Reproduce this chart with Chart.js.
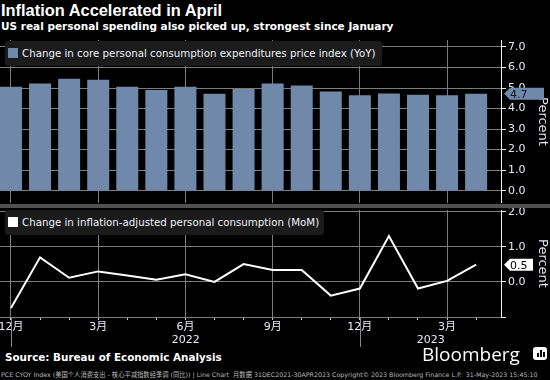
<!DOCTYPE html>
<html>
<head>
<meta charset="utf-8">
<script src="https://cdn.jsdelivr.net/npm/chart.js@4.4.0/dist/chart.umd.min.js"></script>
<style>
  html, body { margin: 0; padding: 0; background: #000; }
  body { width: 550px; height: 380px; position: relative; overflow: hidden; color: #fff; font-family: "DejaVu Sans", sans-serif; }
  .title { position: absolute; left: 1px; top: 0px; font: bold 16.4px "Liberation Sans"; line-height: 20px; }
  .subtitle { position: absolute; left: 1px; top: 19px; font: bold 10.5px "DejaVu Sans"; line-height: 14px; }
  .wrap { position: absolute; left: 0; width: 550px; }
  #topWrap { top: 40px; height: 163px; }
  #botWrap { top: 208px; height: 142px; }
  .legend { position: absolute; left: 5px; height: 25px; background: #1b1b1b; border-radius: 3px; font: 10.25px "DejaVu Sans"; line-height: 25px; color: #eef2f8; white-space: nowrap; }
  .legend .sw { display: inline-block; width: 10px; height: 10px; margin: 0 4px 0 3px; vertical-align: -1px; }
  .sep { position: absolute; left: 0; top: 204px; width: 550px; height: 4px; background: #505050; }
  .source { position: absolute; left: 5px; top: 350px; font: bold 10.4px "DejaVu Sans"; line-height: 14px; }
  .logo { position: absolute; left: 422px; top: 343px; font: 19px "Open Sans", sans-serif; line-height: 22px; color: #fff; }
  .icon { position: absolute; left: 533px; top: 347px; width: 14px; height: 13px; background: #fff; border-radius: 3px; }
  .icon i { position: absolute; bottom: 3px; width: 2px; background: #000; }
  .foot { position: absolute; left: 1px; top: 371px; font: 6.3px "DejaVu Sans", "Noto Sans CJK SC"; color: #bbb; white-space: nowrap; line-height: 8px; }
</style>
</head>
<body>
<div class="title">Inflation Accelerated in April</div>
<div class="subtitle">US real personal spending also picked up, strongest since January</div>
<div class="wrap" id="topWrap"><canvas id="topChart"></canvas></div>
<div class="legend" id="topLegend" style="top:41px;width:377px"><span class="sw" style="background:#7088aa"></span><span class="lt"></span></div>
<div class="sep"></div>
<div class="wrap" id="botWrap"><canvas id="botChart"></canvas></div>
<div class="legend" id="botLegend" style="top:210px;width:319px"><span class="sw" style="background:#fff"></span><span class="lt"></span></div>
<div class="source">Source: Bureau of Economic Analysis</div>
<div class="logo">Bloomberg</div>
<div class="icon"><i style="left:4px;height:4px"></i><i style="left:7px;height:7px"></i><i style="left:10px;height:5px"></i></div>
<div class="foot">PCE CYOY Index (美国个人消费支出 - 核心平减指数经季调 (同比)) | Line Chart &nbsp;月数据 31DEC2021-30APR2023 Copyright© 2023 Bloomberg Finance L.P. &nbsp;31-May-2023 15:45:10</div>

<script>
const months = ['2021-12', '2022-01', '2022-02', '2022-03', '2022-04', '2022-05', '2022-06', '2022-07', '2022-08',
  '2022-09', '2022-10', '2022-11', '2022-12', '2023-01', '2023-02', '2023-03', '2023-04'];
const corePceYoY = [5.06, 5.22, 5.45, 5.40, 5.06, 4.91, 5.06, 4.72, 4.95, 5.22, 5.12, 4.83, 4.65, 4.73, 4.67, 4.65, 4.72];
const realSpendingMoM = [-0.74, 0.70, 0.12, 0.30, 0.18, 0.06, 0.22, 0.00, 0.51, 0.34, 0.34, -0.39, -0.19, 1.31, -0.19, 0.03, 0.49];
const topTicks = [0, 1, 2, 3, 4, 5, 6, 7];
const botTicks = [-1, 0, 1, 2];
const topLabel = 'Change in core personal consumption expenditures price index (YoY)';
const botLabel = 'Change in inflation-adjusted personal consumption (MoM)';

document.querySelector('#topLegend .lt').textContent = topLabel;
document.querySelector('#botLegend .lt').textContent = botLabel;

const GRID = '#7c7c7c';
const TXT = '#e6ecf5';
const monthNum = m => +String(m).slice(5);
const isQuarter = i => months[i] !== undefined && monthNum(months[i]) % 3 === 0;

// shared x scale: indexes of months, right edge ends where the y axis sits
function xScale(showLabels) {
  return {
    type: 'linear',
    min: -0.378,
    max: 16.855,
    offset: false,
    afterBuildTicks: s => { s.ticks = months.map((m, i) => ({ value: i })); },
    afterFit: s => { s.height = showLabels ? 33 : 0; s.paddingLeft = 0; s.paddingRight = 0; },
    border: { display: false },
    grid: {
      offset: false,
      color: c => isQuarter(c.index) ? GRID : 'rgba(0,0,0,0)',
      borderDash: [2, 3],
      lineWidth: 1,
      drawTicks: showLabels,
      tickLength: 3,
      tickColor: '#d0d0d0',
      tickBorderDash: []
    },
    ticks: {
      display: showLabels,
      autoSkip: false,
      maxRotation: 0,
      padding: 1,
      color: TXT,
      font: { family: '"DejaVu Sans", "Noto Sans CJK SC"', size: 11 },
      callback: (v, i) => isQuarter(i) ? monthNum(months[i]) + '月' : ''
    }
  };
}

function yScale(min, max, ticks) {
  return {
    position: 'right',
    min: min,
    max: max,
    afterBuildTicks: s => { s.ticks = ticks.map(v => ({ value: v })); },
    afterFit: s => { s.width = 49; s.paddingTop = 0; s.paddingBottom = 0; },
    border: { display: true, color: '#f0f0f0', width: 1 },
    grid: { color: GRID, borderDash: [2, 3], tickLength: 5, tickColor: '#f0f0f0', tickBorderDash: [] },
    ticks: {
      color: TXT,
      padding: 2,
      font: { family: '"DejaVu Sans"', size: 11 },
      callback: v => v < 0 ? '' : v.toFixed(1)
    },
    title: { display: true, text: 'Percent', color: '#dfe6f0', font: { family: '"DejaVu Sans"', size: 13 }, padding: 0 }
  };
}

// last-value flag sitting on the right axis
function valueTag(fill, textColor, w) {
  return {
    id: 'valueTag',
    afterDraw(chart) {
      const data = chart.data.datasets[0].data;
      const last = data[data.length - 1];
      const y = chart.scales.y.getPixelForValue(last.y);
      const x = chart.chartArea.right + 3;
      const ctx = chart.ctx;
      ctx.save();
      ctx.fillStyle = fill;
      ctx.beginPath();
      ctx.moveTo(x, y);
      ctx.lineTo(x + 6, y - 6);
      ctx.lineTo(x + w, y - 6);
      ctx.lineTo(x + w, y + 6);
      ctx.lineTo(x + 6, y + 6);
      ctx.closePath();
      ctx.fill();
      ctx.fillStyle = textColor;
      ctx.font = '11px "DejaVu Sans"';
      ctx.textBaseline = 'middle';
      ctx.fillText(last.y.toFixed(1), x + 6, y + 1);
      ctx.restore();
    }
  };
}

// year labels centred between December marks, with separator lines
const yearBands = {
  id: 'yearBands',
  afterDraw(chart) {
    const xs = chart.scales.x;
    const ctx = chart.ctx;
    const bottom = chart.chartArea.bottom;
    const cuts = [];
    months.forEach((m, i) => { if (monthNum(m) === 12) cuts.push(i); });
    ctx.save();
    ctx.strokeStyle = '#8a8a8a';
    ctx.lineWidth = 1;
    ctx.fillStyle = TXT;
    ctx.font = '11px "DejaVu Sans"';
    ctx.textAlign = 'center';
    ctx.textBaseline = 'middle';
    cuts.forEach((ci, k) => {
      const x0 = Math.round(xs.getPixelForValue(ci)) + 0.5;
      ctx.beginPath();
      ctx.moveTo(x0, bottom + 1);
      ctx.lineTo(x0, bottom + 30);
      ctx.stroke();
      const x1 = k + 1 < cuts.length ? xs.getPixelForValue(cuts[k + 1]) : chart.chartArea.right;
      const year = +months[ci].slice(0, 4) + 1;
      ctx.fillText(String(year), (x0 + x1) / 2, bottom + 23);
    });
    ctx.restore();
  }
};

new Chart(document.getElementById('topChart'), {
  type: 'bar',
  data: {
    datasets: [{
      label: topLabel,
      data: corePceYoY.map((v, i) => ({ x: i, y: v })),
      backgroundColor: '#7088aa',
      borderWidth: 0,
      barPercentage: 0.757,
      categoryPercentage: 1
    }]
  },
  options: {
    responsive: true,
    maintainAspectRatio: false,
    animation: false,
    layout: { padding: 0 },
    plugins: { legend: { display: false }, tooltip: { enabled: false } },
    scales: { x: xScale(false), y: yScale(-0.6, 7.34, topTicks) }
  },
  plugins: [valueTag('#7088aa', '#10151c', 40)]
});

new Chart(document.getElementById('botChart'), {
  type: 'line',
  data: {
    datasets: [{
      label: botLabel,
      data: realSpendingMoM.map((v, i) => ({ x: i, y: v })),
      borderColor: '#ffffff',
      borderWidth: 2,
      pointRadius: 0,
      tension: 0
    }]
  },
  options: {
    responsive: true,
    maintainAspectRatio: false,
    animation: false,
    layout: { padding: { top: 2 } },
    plugins: { legend: { display: false }, tooltip: { enabled: false } },
    scales: { x: xScale(true), y: yScale(-1, 2.05, botTicks) }
  },
  plugins: [valueTag('#ffffff', '#000000', 29), yearBands]
});
</script>
</body>
</html>
